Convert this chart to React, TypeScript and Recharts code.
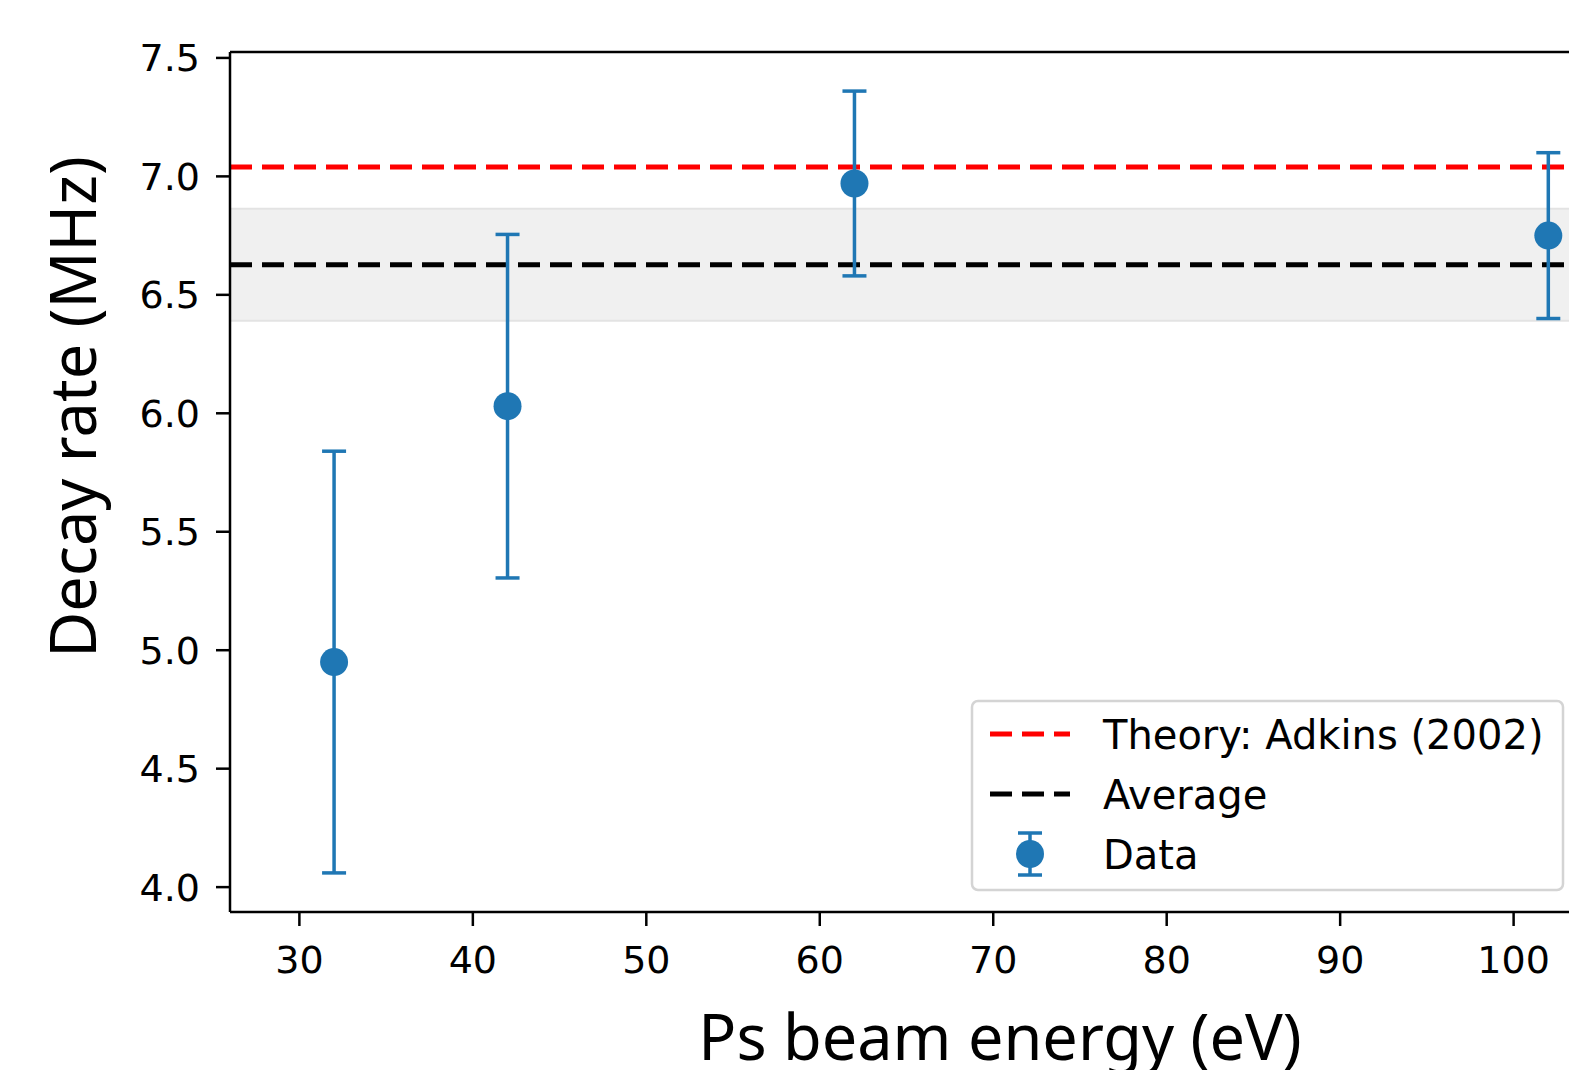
import {
  ComposedChart,
  Scatter,
  ErrorBar,
  XAxis,
  YAxis,
  ReferenceLine,
  ReferenceArea,
  Legend,
  Label,
} from "recharts";

// beam energies (eV) and measured decay rates (MHz) with 1-sigma errors
const energies = [32, 42, 62, 102];
const decayRates = [4.95, 6.03, 6.97, 6.75];
const rateErrors = [0.89, 0.725, 0.39, 0.35];

const theoryRate = 7.04;
const averageRate = 6.627;
const averageErr = 0.236;

const xTicks = [30, 40, 50, 60, 70, 80, 90, 100];
const yTicks = [4.0, 4.5, 5.0, 5.5, 6.0, 6.5, 7.0, 7.5];

const X_DOMAIN = [26, 104];
const Y_DOMAIN = [3.895, 7.525];

const data = energies.map((x, i) => ({ x, y: decayRates[i], err: rateErrors[i] }));

const BLUE = "#1f77b4";
const TICK_FONT = { fontSize: 38, fill: "#000", fontFamily: "DejaVu Sans" };
const LABEL_FONT = "Noto Sans";

function Dot(props: any) {
  return <circle cx={props.cx} cy={props.cy} r={14} fill={BLUE} />;
}

function LegendBox() {
  return (
    <svg width={600} height={200} style={{ display: "block" }}>
      <rect x={3} y={3} width={591} height={189} rx={6} fill="#fff" fillOpacity={0.8} stroke="#d4d4d4" strokeWidth={2.5} />
      <line x1={21} x2={101} y1={36} y2={36} stroke="#ff0000" strokeWidth={5} strokeDasharray="22 10" />
      <line x1={21} x2={101} y1={96} y2={96} stroke="#000" strokeWidth={5} strokeDasharray="22 10" />
      <line x1={61} x2={61} y1={135} y2={177} stroke={BLUE} strokeWidth={3.5} />
      <line x1={49} x2={73} y1={135} y2={135} stroke={BLUE} strokeWidth={3.5} />
      <line x1={49} x2={73} y1={177} y2={177} stroke={BLUE} strokeWidth={3.5} />
      <circle cx={61} cy={156} r={14} fill={BLUE} />
      <g fontFamily="DejaVu Sans" fontSize={40} fill="#000">
        <text x={134} y={51}>Theory: Adkins (2002)</text>
        <text x={134} y={111}>Average</text>
        <text x={134} y={171}>Data</text>
      </g>
    </svg>
  );
}

export default function App() {
  return (
    <div
      style={{
        position: "fixed",
        left: 0,
        top: 0,
        width: 1569,
        height: 1070,
        overflow: "hidden",
        background: "#fff",
      }}
    >
      <ComposedChart width={1583} height={1070} margin={{ top: 52, right: 0, left: 0, bottom: 0 }}>
        <XAxis
          dataKey="x"
          type="number"
          domain={X_DOMAIN}
          allowDataOverflow
          ticks={xTicks}
          height={158}
          stroke="#000"
          strokeWidth={2.5}
          tickSize={14}
          tickMargin={20}
          tick={TICK_FONT}
        >
          <Label
            content={() => (
              <text x={1000} y={1060} textAnchor="middle" fontFamily={LABEL_FONT} fontSize={63} fill="#000">
                Ps beam energy (eV)
              </text>
            )}
          />
        </XAxis>
        <YAxis
          type="number"
          domain={Y_DOMAIN}
          allowDataOverflow
          ticks={yTicks}
          width={230}
          stroke="#000"
          strokeWidth={2.5}
          tickSize={14}
          tickMargin={16}
          tick={TICK_FONT}
          tickFormatter={(v: number) => v.toFixed(1)}
        >
          <Label
            content={() => (
              <text
                x={96}
                y={407}
                transform="rotate(-90 96 407)"
                textAnchor="middle"
                fontFamily={LABEL_FONT}
                fontSize={63}
                fill="#000"
              >
                Decay rate (MHz)
              </text>
            )}
          />
        </YAxis>
        <ReferenceArea
          y1={averageRate - averageErr}
          y2={averageRate + averageErr}
          fill="#f0f0f0"
          fillOpacity={1}
          stroke="#e3e3e3"
          strokeWidth={2}
        />
        <ReferenceLine y={theoryRate} stroke="#ff0000" strokeWidth={5} strokeDasharray="22 10" />
        <ReferenceLine y={averageRate} stroke="#000" strokeWidth={5} strokeDasharray="22 10" />
        {/* top spine */}
        <ReferenceLine y={Y_DOMAIN[1]} stroke="#000" strokeWidth={2.5} ifOverflow="visible" />
        <Scatter data={data} dataKey="y" fill={BLUE} shape={<Dot />} isAnimationActive={false}>
          <ErrorBar dataKey="err" direction="y" width={12} stroke={BLUE} strokeWidth={3.5} isAnimationActive={false} />
        </Scatter>
        <Legend
          layout="horizontal"
          verticalAlign="middle"
          content={() => <LegendBox />}
          wrapperStyle={{ position: "absolute", left: 969, top: 698, width: 600, height: 200 }}
        />
      </ComposedChart>
    </div>
  );
}
